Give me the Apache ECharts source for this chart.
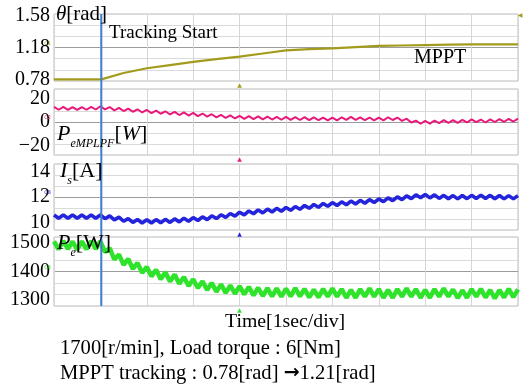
<!DOCTYPE html>
<html>
<head>
<meta charset="utf-8">
<script src="https://cdn.jsdelivr.net/npm/echarts@6/dist/echarts.min.js"></script>
<style>
html,body{margin:0;padding:0;background:#fff;}
#c{width:523px;height:385px;}
</style>
</head>
<body>
<div id="c"></div>
<script>
// ---- Data ----
const timeStep = 0.1; // seconds between samples of the rippled traces
const trackStartTime = 1.02; // s, "Tracking Start"
const markerTime = 4; // s, scope trigger markers

const thetaTimes  = [0, 1.02, 1.5, 2, 2.5, 3, 3.5, 4, 4.5, 5, 5.5, 6, 6.5, 7, 7.5, 8, 8.5, 9, 9.5, 10];
const thetaValues = [0.78, 0.78, 0.86, 0.92, 0.96, 1.00, 1.035, 1.065, 1.105, 1.145, 1.16, 1.17, 1.185, 1.20, 1.205, 1.21, 1.215, 1.22, 1.22, 1.22];

const pemplpfValues = [
 12.8,10.4,12.8,10.3,12.7,10.3,12.7,10.4,12.9,10.6,
 13.4,10.7,12.7,9.9,12.0,9.3,11.4,8.7,10.8,8.1,
 10.2,7.55,9.7,7.0,9.1,6.4,8.6,5.9,8.1,5.5,
 7.7,5.0,7.2,4.5,6.6,3.9,6.1,3.4,5.6,3.0,
 5.2,2.7,5.0,2.5,4.8,2.3,4.6,2.1,4.4,1.9,
 4.3,1.8,4.2,1.7,4.1,1.6,4.0,1.5,3.8,1.4,
 3.7,1.4,4.0,1.8,4.3,1.8,4.0,1.5,3.8,1.3,
 3.7,1.4,4.0,1.7,3.8,1.0,2.8,-0.4,1.2,-1.5,
 0.9,-1.4,1.2,-1.0,1.6,-0.7,1.5,-0.8,1.8,-0.4,
 2.2,-0.1,2.1,-0.4,2.2,0.0,2.5,0.2,2.7,0.4,
 2.9
];

const isValues = [
 10.58,10.32,10.58,10.32,10.58,10.32,10.58,10.32,10.58,10.32,
 10.58,10.29,10.51,10.20,10.41,10.09,10.30,10.00,10.23,9.95,
 10.21,9.95,10.22,9.97,10.24,10.00,10.28,10.04,10.33,10.09,
 10.38,10.15,10.44,10.22,10.52,10.30,10.60,10.39,10.70,10.49,
 10.80,10.59,10.90,10.68,10.98,10.75,11.05,10.82,11.11,10.88,
 11.17,10.95,11.25,11.03,11.33,11.11,11.41,11.19,11.49,11.27,
 11.56,11.33,11.62,11.39,11.68,11.45,11.74,11.51,11.80,11.56,
 11.85,11.63,11.93,11.71,12.01,11.79,12.09,11.87,12.17,11.94,
 12.21,11.93,12.17,11.89,12.13,11.86,12.11,11.85,12.12,11.87,
 12.13,11.88,12.15,11.88,12.13,11.86,12.12,11.85,12.11,11.85,
 12.11
];

const peValues = [
 1506,1478,1507,1479,1505,1477,1506,1478,1507,1479,
 1506,1468,1482,1442,1460,1423,1444,1409,1430,1395,
 1416,1383,1406,1373,1397,1365,1389,1357,1381,1349,
 1373,1342,1366,1335,1360,1329,1355,1325,1351,1322,
 1349,1320,1346,1316,1343,1314,1342,1313,1341,1312,
 1340,1313,1342,1313,1339,1309,1336,1309,1339,1312,
 1341,1312,1338,1308,1335,1308,1338,1312,1341,1312,
 1338,1308,1335,1308,1338,1312,1341,1312,1338,1308,
 1335,1308,1338,1312,1341,1312,1337,1307,1334,1308,
 1338,1312,1339,1309,1335,1306,1335,1309,1339,1310,
 1337
];

const yTicks = [
  [0.78, 1.18, 1.58],
  [-20, 0, 20],
  [10, 12, 14],
  [1300, 1400, 1500]
];
const yRanges = [[0.76, 1.60], [-28, 28], [9.4, 14.6], [1279, 1521]];
const colors = ['#a39b1c', '#e8197a', '#2424dc', '#2fe32a'];

// ---- Chart ----
const serif = 'Liberation Serif, Times New Roman, serif';
const chart = echarts.init(document.getElementById('c'), null, {renderer: 'canvas'});

const gridBoxes = [
  {top: 14, height: 67},
  {top: 89, height: 66},
  {top: 164, height: 66},
  {top: 237, height: 69}
];

const grids = gridBoxes.map(g => ({
  left: 54, right: 5, top: g.top, height: g.height,
  show: true, borderColor: '#bcbcbc', borderWidth: 1, backgroundColor: 'transparent'
}));

const xAxes = gridBoxes.map((g, i) => ({
  type: 'value', gridIndex: i, min: 0, max: 10, interval: 1,
  axisLine: {show: false}, axisTick: {show: false}, axisLabel: {show: false},
  splitLine: {show: true, lineStyle: {color: '#d6d6d6', width: 1}}
}));

const yAxes = gridBoxes.map((g, i) => ({
  type: 'value', gridIndex: i,
  min: yRanges[i][0], max: yRanges[i][1],
  interval: (yRanges[i][1] - yRanges[i][0]) / 6,
  axisLine: {show: false}, axisTick: {show: false},
  axisLabel: {
    show: true, customValues: yTicks[i], margin: 4,
    fontFamily: serif, fontSize: 20, color: '#000',
    formatter: v => String(v).replace('-', '\u2212')
  },
  splitLine: {show: true, lineStyle: {
    color: ['#dadada', '#dadada', '#dadada', '#9c9c9c', '#dadada', '#dadada'], width: 1}}
}));

const toPairs = vals => vals.map((v, i) => [Math.round(i * timeStep * 100) / 100, v]);

const series = [
  {type: 'line', xAxisIndex: 0, yAxisIndex: 0, showSymbol: false, silent: true,
   data: thetaTimes.map((t, i) => [t, thetaValues[i]]),
   lineStyle: {color: colors[0], width: 2.2}},
  {type: 'line', xAxisIndex: 1, yAxisIndex: 1, showSymbol: false, silent: true,
   data: toPairs(pemplpfValues),
   lineStyle: {color: colors[1], width: 2}},
  {type: 'line', xAxisIndex: 2, yAxisIndex: 2, showSymbol: false, silent: true,
   data: toPairs(isValues),
   lineStyle: {color: colors[2], width: 3.6}},
  {type: 'line', xAxisIndex: 3, yAxisIndex: 3, showSymbol: false, silent: true,
   data: toPairs(peValues),
   lineStyle: {color: colors[3], width: 4.5}}
];

function txt(left, top, text, size, extra) {
  return Object.assign({
    type: 'text', left: left, top: top, z: 50,
    style: Object.assign({text: text, fontFamily: serif, fontSize: size, fill: '#000'}, extra || {})
  });
}

chart.setOption({
  animation: false,
  backgroundColor: '#fff',
  grid: grids, xAxis: xAxes, yAxis: yAxes, series: series
});

// annotations positioned through the chart's own scales
const xTrack = chart.convertToPixel({xAxisIndex: 0}, trackStartTime);
const xMark = chart.convertToPixel({xAxisIndex: 0}, markerTime);
const yTop = chart.convertToPixel({yAxisIndex: 0}, yRanges[0][1]);
const yBot = chart.convertToPixel({yAxisIndex: 3}, yRanges[3][0]);
const gridBottoms = [0, 1, 2, 3].map(i => chart.convertToPixel({yAxisIndex: i}, yRanges[i][0]));
const gridCenters = [0, 1, 2, 3].map(i => chart.convertToPixel({yAxisIndex: i}, (yRanges[i][0] + yRanges[i][1]) / 2));

const richBase = {
  i: {fontFamily: serif, fontSize: 22, fontStyle: 'italic', lineHeight: 24, verticalAlign: 'top'},
  n: {fontFamily: serif, fontSize: 22, lineHeight: 24, verticalAlign: 'top'},
  s: {fontFamily: serif, fontSize: 12, fontStyle: 'italic', lineHeight: 12, verticalAlign: 'bottom', padding: [0, 0, -3, 0]}
};

const graphics = [
  {type: 'line', z: 40, shape: {x1: xTrack, y1: yTop, x2: xTrack, y2: yBot},
   style: {stroke: '#3d80d4', lineWidth: 2}},
  {type: 'text', left: 56, top: 4, z: 50,
   style: {text: '{i|\u03b8}{n|[rad]}', rich: {
     i: {fontFamily: serif, fontSize: 21, fontStyle: 'italic'},
     n: {fontFamily: serif, fontSize: 21}}, fill: '#000'}},
  txt(109, 24, 'Tracking Start', 19),
  txt(414, 48, 'MPPT', 20),
  {type: 'text', left: 57, top: 123, z: 50,
   style: {text: '{i|P}{s|eMPLPF}{n|[}{i|W}{n|]}', rich: richBase, fill: '#000'}},
  {type: 'text', left: 60, top: 160, z: 50,
   style: {text: '{i|I}{s|s}{n|[A]}', rich: richBase, fill: '#000'}},
  {type: 'text', left: 57, top: 232, z: 50,
   style: {text: '{i|P}{s|e}{n|[W]}', rich: richBase, fill: '#000'}},
  txt(225, 312, 'Time[1sec/div]', 19.8),
  txt(60, 338, '1700[r/min], Load torque : 6[Nm]', 20.6),
  {type: 'text', left: 60, top: 363, z: 50,
   style: {text: 'MPPT tracking : 0.78[rad] {a|\u2192}1.21[rad]',
     fontFamily: serif, fontSize: 20.6, fill: '#000',
     rich: {a: {fontFamily: 'DejaVu Sans', fontSize: 19, fontWeight: 'bold'}}}}
];

// small scope markers
['C1', 'C2', 'C3', 'C4'].forEach((c, i) => {
  graphics.push({type: 'text', z: 50, x: 51, y: gridCenters[i] - 4,
    style: {text: c, fontFamily: 'DejaVu Sans', fontSize: 5, fill: colors[i], align: 'right', verticalAlign: 'middle'}});
  graphics.push({type: 'text', z: 50, x: xMark, y: gridBottoms[i] + 4,
    style: {text: '\u25b2', fontFamily: 'DejaVu Sans', fontSize: 6, fill: colors[i], align: 'center', verticalAlign: 'middle'}});
});
graphics.push({type: 'text', z: 50, x: 520, y: yTop + 1,
  style: {text: '\u25c0', fontFamily: 'DejaVu Sans', fontSize: 6, fill: colors[0], align: 'center', verticalAlign: 'middle'}});

chart.setOption({graphic: graphics});
</script>
</body>
</html>
